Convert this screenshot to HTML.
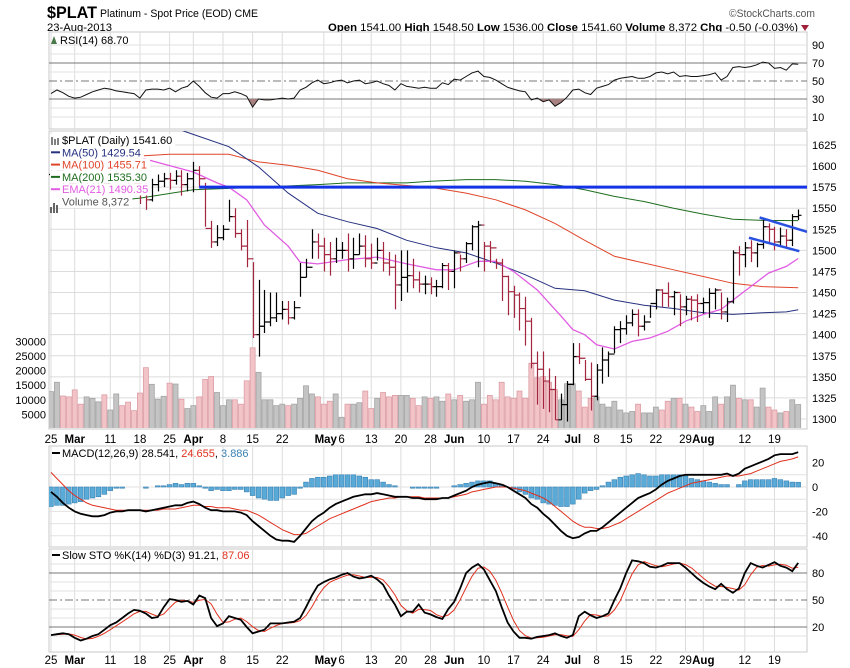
<!DOCTYPE html>
<html><head><meta charset="utf-8"><style>
html,body{margin:0;padding:0;background:#fff;}
svg{display:block;font-family:"Liberation Sans",Arial,sans-serif;}
</style></head><body>
<svg id="chart" width="850" height="668" viewBox="0 0 850 668" xmlns="http://www.w3.org/2000/svg">
<defs>
<clipPath id="cRsi"><rect x="49" y="32" width="758" height="97"/></clipPath>
<clipPath id="cPrice"><rect x="49" y="131" width="758" height="297"/></clipPath>
<clipPath id="cMacd"><rect x="49" y="446" width="758" height="101"/></clipPath>
<clipPath id="cSto"><rect x="49" y="549" width="758" height="103"/></clipPath>
<clipPath id="cBelow30"><rect x="49" y="99" width="758" height="30"/></clipPath>
</defs>
<text x="47" y="18" font-size="17" font-weight="bold" textLength="50" lengthAdjust="spacingAndGlyphs">$PLAT</text>
<text x="100" y="17" font-size="11" textLength="158" lengthAdjust="spacingAndGlyphs">Platinum - Spot Price (EOD) CME</text>
<text x="47" y="31" font-size="11" textLength="65" lengthAdjust="spacingAndGlyphs">23-Aug-2013</text>
<text x="815" y="17" font-size="11" fill="#555" text-anchor="end" textLength="86" lengthAdjust="spacingAndGlyphs">©StockCharts.com</text>
<text x="798" y="31" font-size="11" text-anchor="end" textLength="470" lengthAdjust="spacingAndGlyphs"><tspan font-weight="bold">Open</tspan> 1541.00 <tspan font-weight="bold">High</tspan> 1548.50 <tspan font-weight="bold">Low</tspan> 1536.00 <tspan font-weight="bold">Close</tspan> 1541.60 <tspan font-weight="bold">Volume</tspan> 8,372 <tspan font-weight="bold">Chg</tspan> -0.50 (-0.03%)</text>
<path d="M801 25 L809 25 L805 31 Z" fill="#a0203a"/>
<g id="g"></g>
</svg>
<script>
// ---------- data ----------
const dateLabels = ["25","Mar","11","18","25","Apr","8","15","22","May","6","13","20","28","Jun","10","17","24","Jul","8","15","22","29","Aug","12","19"];
const dateLabelIdx = [0,4,10,15,20,24,29,34,39,46,49,54,59,64,68,73,78,83,88,92,97,102,107,110,117,122];
const monthLabels = ["Mar","Apr","May","Jun","Jul","Aug"];
const closes = [1590,1595,1585,1580,1575,1572,1578,1582,1585,1580,1590,1592,1588,1585,1580,1575,1560,1578,1582,1585,1583,1588,1578,1585,1595,1585,1526,1510,1515,1525,1540,1520,1505,1490,1400,1410,1415,1420,1425,1430,1420,1432,1468,1480,1510,1505,1495,1490,1500,1500,1490,1495,1505,1490,1485,1500,1485,1480,1459,1468,1470,1465,1460,1460,1457,1457,1482,1475,1497,1490,1508,1528,1530,1505,1503,1485,1469,1451,1447,1431,1416,1366,1359,1345,1335,1299,1317,1341,1374,1372,1347,1327,1358,1370,1377,1406,1407,1414,1424,1410,1415,1437,1453,1449,1445,1450,1433,1442,1441,1437,1438,1449,1453,1427,1439,1497,1495,1503,1497,1507,1528,1525,1510,1517,1512,1540,1541.6];
const highs = [1600,1605,1598,1590,1585,1580,1585,1590,1592,1588,1596,1598,1595,1592,1588,1595,1580,1585,1590,1592,1592,1595,1595,1592,1605,1600,1580,1535,1530,1530,1560,1550,1525,1536,1486,1465,1453,1450,1450,1440,1440,1440,1485,1490,1525,1520,1515,1510,1515,1510,1520,1515,1520,1518,1508,1515,1510,1498,1495,1500,1500,1490,1475,1470,1468,1465,1485,1485,1500,1495,1510,1530,1535,1510,1511,1490,1490,1470,1458,1450,1445,1420,1380,1380,1360,1351,1330,1345,1390,1390,1370,1367,1365,1385,1380,1410,1416,1423,1430,1430,1423,1435,1454,1454,1462,1452,1448,1446,1446,1448,1444,1455,1455,1450,1444,1500,1505,1510,1512,1509,1538,1532,1528,1527,1525,1543,1548.5];
const lows = [1580,1585,1578,1572,1568,1565,1568,1575,1576,1572,1580,1585,1580,1578,1575,1555,1548,1558,1570,1575,1572,1578,1565,1570,1569,1575,1528,1503,1505,1512,1534,1515,1500,1480,1396,1374,1402,1410,1415,1418,1412,1418,1445,1468,1490,1490,1475,1470,1485,1490,1475,1478,1495,1480,1478,1488,1475,1470,1430,1440,1450,1455,1450,1448,1448,1445,1455,1453,1455,1475,1485,1500,1480,1475,1485,1478,1440,1423,1420,1405,1387,1360,1317,1312,1308,1299,1299,1297,1340,1365,1345,1310,1322,1342,1350,1378,1390,1400,1410,1398,1405,1420,1430,1433,1433,1423,1410,1423,1417,1415,1425,1420,1430,1418,1415,1437,1470,1480,1486,1480,1502,1510,1500,1505,1504,1505,1536];
const volumes = [12800,16000,11300,11000,13400,8500,11000,10500,9300,11700,6500,12000,8000,9200,6300,12300,21000,15300,10200,11200,15700,15400,10200,7000,8000,11000,17000,18000,12500,8000,10000,10000,8500,16500,27800,19400,10000,10000,8000,8500,8000,8500,10500,14800,12000,11000,8500,9500,12000,4000,8500,8500,9000,13000,7000,10500,12500,11000,11500,11500,11500,10500,8000,11000,10500,11000,9500,12000,10000,11500,9500,10000,16000,8500,11500,10000,16000,11000,10500,13000,10500,22500,17500,18000,16000,13500,10000,15500,15500,13000,7500,10500,11000,8500,7500,9500,6500,5500,6000,8500,5500,5500,7500,6500,9500,10500,10500,8500,7500,6000,8000,6000,11000,8500,11000,15000,10500,10000,10000,7500,14000,7500,6500,5500,6000,10000,8372];
const rsi = [36,40,37,33,31,32,35,38,40,42,41,39,38,37,36,31,40,41,41,40,42,38,42,44,50,44,37,32,31,36,36,38,36,33,21,30,29,29,30,31,30,31,40,43,48,51,47,48,50,51,48,50,51,47,48,50,47,45,40,47,44,43,42,43,42,42,48,46,52,51,55,59,61,55,54,51,47,43,41,39,38,29,31,27,29,22,26,32,40,41,37,35,42,44,46,51,53,54,55,53,53,55,59,60,58,60,55,56,55,55,56,57,59,51,55,65,66,65,66,68,71,70,64,65,62,69,68.7];
const rsiTicks = [90,70,50,30,10];
const ma50Idx = [0,15,23,30,35,40,45,50,55,60,65,70,75,80,85,90,95,100,105,110,115,120,124,126];
const ma50 = [1680,1660,1640,1623,1599,1568,1544,1534,1526,1512,1503,1497,1485,1471,1455,1452,1441,1435,1431,1426,1424,1426,1427,1429.54];
const ma100Idx = [0,15,20,30,35,40,45,50,55,60,64,70,75,80,85,90,95,100,105,110,115,120,126];
const ma100 = [1610,1612,1614,1614,1605,1601,1595,1585,1580,1577,1575,1568,1560,1548,1532,1512,1493,1485,1477,1469,1461,1457,1455.71];
const ma200Idx = [0,15,24,35,45,50,60,64,70,75,80,85,90,95,100,105,110,115,120,126];
const ma200 = [1551,1562,1572,1575,1578,1580,1580,1582,1584,1584,1582,1578,1572,1564,1558,1550,1543,1537,1535.5,1535.3];
const emaIdx = [0,15,24,28,30,33,36,40,42,45,50,55,60,65,68,72,75,78,82,86,88,90,92,95,98,101,104,107,110,113,115,118,121,124,126];
const ema21 = [1615,1610,1593,1580,1575,1560,1530,1505,1486,1484,1489,1492,1484,1477,1477,1487,1487,1475,1453,1422,1406,1400,1388,1383,1392,1396,1404,1416,1424,1430,1441,1457,1473,1481,1490.35];
const resistanceLevel = [1575];
const channelIdx = [119.5,127.5];
const channelUpper = [1539,1522];
const channelLower = [1515,1499];
const priceTicks = [1625,1600,1575,1550,1525,1500,1475,1450,1425,1400,1375,1350,1325,1300];
const volTicks = [30000,25000,20000,15000,10000,5000];
const macd = [-4,-8,-13,-17,-20,-22,-23,-24,-24,-23,-21,-20,-20,-19,-19,-19,-20,-19,-18,-17,-16,-15,-15,-13,-12,-14,-17,-19,-19,-20,-20,-20,-21,-23,-28,-32,-36,-40,-43,-44,-44,-45,-40,-34,-28,-24,-21,-17,-14,-12,-10,-8,-7,-6,-6,-5,-6,-7,-8,-8,-8,-9,-9,-10,-10,-10,-9,-9,-7,-5,-3,0,2,3,4,3,2,0,-3,-6,-9,-14,-17,-22,-26,-31,-36,-40,-42,-41,-38,-36,-36,-33,-29,-25,-21,-17,-13,-9,-7,-5,-2,2,5,7,9,10,10,10,10,10,10,10,11,9,11,15,17,19,21,23,26,27,27,27,28.541];
const signal = [12,7,2,-3,-7,-10,-13,-15,-16,-17,-18,-19,-19,-19,-19,-19,-19,-19,-19,-18,-18,-18,-17,-16,-15,-15,-16,-16,-17,-17,-17,-18,-19,-19,-21,-23,-26,-29,-32,-35,-37,-39,-39,-38,-35,-32,-29,-26,-24,-22,-20,-18,-16,-14,-12,-11,-10,-9,-9,-8,-8,-8,-8,-9,-9,-9,-9,-9,-8,-7,-6,-4,-3,-2,-1,0,0,0,-1,-2,-3,-5,-7,-9,-12,-16,-20,-24,-28,-31,-33,-33,-34,-34,-33,-31,-29,-26,-23,-20,-17,-14,-11,-8,-5,-3,-1,1,3,4,5,6,7,8,9,9,9,10,11,13,15,17,19,21,22,23,24.655];
const macdTicks = [20,0,-20,-40];
const stoK = [11,12,13,12,8,5,7,10,12,17,22,25,30,35,39,38,35,30,31,42,51,50,48,49,45,55,52,30,21,24,32,30,28,20,13,15,17,24,24,24,25,26,30,42,55,66,70,73,75,78,80,76,74,75,77,73,67,55,45,32,37,37,45,36,34,31,29,40,48,63,80,86,90,84,72,60,42,25,15,8,8,7,9,10,11,13,10,8,11,32,37,33,30,32,35,50,63,80,94,93,91,87,86,88,91,91,91,86,80,74,69,65,62,68,62,58,63,80,91,88,86,89,92,88,86,82,91.21];
const stoTicks = [80,50,20];

// ---------- scales ----------
const X0 = 51, DX = 5.93, L = 49, R = 807;
const xs = i => X0 + i * DX;
const py = p => 145 + (1625 - p) * 0.843;
const vy = v => 429 - v * 14.6 / 5000;
const ry = v => 126 - v * 0.9;
const my = v => 487 - v * 1.22;
const sy = v => 645 - v * 0.9;

const NS = "http://www.w3.org/2000/svg";
const root = document.getElementById('g');
function mk(tag, attrs, parent) {
  const e = document.createElementNS(NS, tag);
  for (const k in attrs) e.setAttribute(k, attrs[k]);
  (parent || root).appendChild(e);
  return e;
}
function grp(clip) { const g = mk('g', clip ? {'clip-path': 'url(#' + clip + ')'} : {}); return g; }

// ---------- panel frames & grids ----------
const panels = [
  {name:'rsi-panel', top:32, bot:129},
  {name:'price-panel', top:131, bot:429},
  {name:'macd-panel', top:446, bot:547},
  {name:'sto-panel', top:549, bot:652}
];
panels.forEach(p => {
  const r = mk('rect', {x:L, y:p.top, width:R-L, height:p.bot-p.top, fill:'#fff', stroke:'#c8c8c8', 'stroke-width':1});
  
  
  dateLabelIdx.forEach(i => {
    const ln = mk('line', {x1:xs(i), x2:xs(i), y1:p.top, y2:p.bot, stroke:'#dcdcdc', 'stroke-width':1});
    
    
  });
});
[90,80,60,40,20,10].forEach(v => {
  const ln = mk('line', {x1:L, x2:R, y1:ry(v), y2:ry(v), stroke:'#e2e2e2'});
  
  
});
[90,70,60,40,30,10].forEach(v => {
  const ln = mk('line', {x1:L, x2:R, y1:sy(v), y2:sy(v), stroke:'#e2e2e2'});
  
  
});
priceTicks.forEach(v => {
  const ln = mk('line', {x1:L, x2:R, y1:py(v), y2:py(v), stroke:'#dcdcdc'});
  
  
  const t = mk('text', {x:812, y:py(v)+4, 'font-size':11});
  t.textContent = v;
  
  
});
[10,0,-10,-20,-30,-40].forEach(v => {
  const ln = mk('line', {x1:L, x2:R, y1:my(v), y2:my(v), stroke:'#e2e2e2'});
  
  
});
macdTicks.forEach(v => {
  const t = mk('text', {x:812, y:my(v)+4, 'font-size':11});
  t.textContent = v;
  
  
});
rsiTicks.forEach(v => {
  const t = mk('text', {x:812, y:ry(v)+4, 'font-size':11});
  t.textContent = v;
  
  
});
stoTicks.forEach(v => {
  const t = mk('text', {x:812, y:sy(v)+4, 'font-size':11});
  t.textContent = v;
  
  
});
[[ry(70),'rsi-overbought-line',''],[ry(30),'rsi-oversold-line',''],[ry(50),'rsi-midline','8,3,2,3'],
 [sy(80),'sto-overbought-line',''],[sy(20),'sto-oversold-line',''],[sy(50),'sto-midline','8,3,2,3']].forEach(a => {
  const ln = mk('line', {x1:L, x2:R, y1:a[0], y2:a[0], stroke:'#777', 'stroke-width':1, 'stroke-dasharray':a[2]});
  
  
});

// ---------- RSI ----------
const gR = grp('cRsi');
const rsiPts = rsi.map((v,i) => xs(i).toFixed(1) + ',' + ry(v).toFixed(1));
const fillArea = mk('polygon', {points: xs(0)+','+ry(30)+' '+rsiPts.join(' ')+' '+xs(rsi.length-1)+','+ry(30), fill:'#a98080', 'clip-path':'url(#cBelow30)'}, gR);


const rsiLine = mk('polyline', {points: rsiPts.join(' '), fill:'none', stroke:'#111', 'stroke-width':1}, gR);


const rsiLab = mk('text', {x:60, y:44, 'font-size':11});
rsiLab.textContent = 'RSI(14) 68.70';


mk('path', {d:'M51 44 L54 36 L57 44 Z', fill:'#4a7a4a'});

// ---------- price panel ----------
const gP = grp('cPrice');
volumes.forEach((v,i) => {
  const down = i > 0 && closes[i] < closes[i-1];
  const b = mk('rect', {x:xs(i)-2.5, y:vy(v), width:5, height:429-vy(v), fill: down ? '#f2c4c8' : '#c4c4c4', stroke: down ? '#dc9ea6' : '#a4a4a4', 'stroke-width':0.8}, gP);
  
  
});
volTicks.forEach(v => {
  const t = mk('text', {x:46, y:vy(v)+4, 'font-size':11, 'text-anchor':'end'});
  t.textContent = v;
  
  
});
function line(idx, vals, scale, color, w, name, parent) {
  const pts = vals.map((v,k) => xs(idx[k]).toFixed(1) + ',' + scale(v).toFixed(1)).join(' ');
  const pl = mk('polyline', {points:pts, fill:'none', stroke:color, 'stroke-width':w}, parent);
  
  
}
line(ma200Idx, ma200, py, '#1f6e1f', 1, 'ma200-line', gP);
line(ma100Idx, ma100, py, '#e0452a', 1, 'ma100-line', gP);
line(ma50Idx, ma50, py, '#25307f', 1, 'ma50-line', gP);
line(emaIdx, ema21, py, '#e25ce2', 1.3, 'ema21-line', gP);
closes.forEach((c,i) => {
  const o = i > 0 ? closes[i-1] : c;
  const down = i > 0 && c < closes[i-1];
  const col = down ? '#a3263f' : '#000';
  const x = Math.round(xs(i)) + 0.5;
  const bar = mk('path', {d:`M${x} ${py(highs[i])} V${py(lows[i])} M${x-3} ${py(o)} H${x} M${x} ${py(c)} H${x+3}`, stroke:col, 'stroke-width':1.2, fill:'none'}, gP);
  
  
});
const res = mk('line', {x1:xs(25), x2:R, y1:py(resistanceLevel[0]), y2:py(resistanceLevel[0]), stroke:'#1533e6', 'stroke-width':3}, gP);


const ch1 = mk('line', {x1:xs(channelIdx[0]), x2:xs(channelIdx[1]), y1:py(channelUpper[0]), y2:py(channelUpper[1]), stroke:'#2a50e0', 'stroke-width':2.5}, gP);


const ch2 = mk('line', {x1:xs(channelIdx[0]-1.8), x2:xs(channelIdx[1]-1.3), y1:py(channelLower[0]), y2:py(channelLower[1]), stroke:'#2a50e0', 'stroke-width':2.5}, gP);



// legend
const legend = [
  ['$PLAT (Daily) 1541.60', '#000', 'price-legend'],
  ['MA(50) 1429.54', '#25307f', 'ma50-legend'],
  ['MA(100) 1455.71', '#e0452a', 'ma100-legend'],
  ['MA(200) 1535.30', '#1f6e1f', 'ma200-legend'],
  ['EMA(21) 1490.35', '#e25ce2', 'ema21-legend'],
  ['Volume 8,372', '#555', 'volume-legend']
];
legend.forEach((l,k) => {
  const y = 144 + k * 12.3;
  const bg = mk('rect', {x:50, y:y-10, width:90, height:12.3, fill:'#fff'});
  if (k > 0 && k < 5) mk('line', {x1:51, x2:60, y1:y-4, y2:y-4, stroke:l[1], 'stroke-width':2});
  const t = mk('text', {x:62, y:y, 'font-size':11, fill:l[1]});
  t.textContent = l[0];
  
  
  let w = 90;
  try { w = t.getComputedTextLength() + 15; } catch(e) {}
  bg.setAttribute('width', w);
});
mk('path', {d:'M52 137 V145 M55 139 V145 M58 138 V145', stroke:'#000', 'stroke-width':1});
mk('path', {d:'M51 207 V213 M54 203 V213 M57 205 V213', stroke:'#666', 'stroke-width':2});

// ---------- date axes ----------
[443, 664].forEach((yy, a) => {
  dateLabels.forEach((lab, k) => {
    const isMonth = monthLabels.includes(lab);
    const t = mk('text', {x:xs(dateLabelIdx[k]) + (lab === 'May' ? 2 : 0), y:yy, 'font-size':11.5, 'text-anchor':'middle', 'font-weight': isMonth ? 'bold' : 'normal'});
    t.textContent = lab;
    
    
  });
});

// ---------- MACD ----------
const gM = grp('cMacd');
macd.forEach((m,i) => {
  const h = m - signal[i];
  const y0 = my(0), y1 = my(h);
  const b = mk('rect', {x:xs(i)-2.4, y:Math.min(y0,y1), width:4.8, height:Math.abs(y1-y0), fill:'#5aaad8', stroke:'#3a82b4', 'stroke-width':0.6}, gM);
  
  
});
const allIdx = macd.map((_,i) => i);
line(allIdx, signal, my, '#e0301e', 1, 'macd-signal-line', gM);
line(allIdx, macd, my, '#000', 1.8, 'macd-line', gM);
mk('line', {x1:52, x2:60, y1:453, y2:453, stroke:'#000', 'stroke-width':2});
const ml = mk('text', {x:62, y:457, 'font-size':11});
ml.innerHTML = 'MACD(12,26,9) 28.541, <tspan fill="#e0301e">24.655</tspan>, <tspan fill="#3a82b4">3.886</tspan>';



// ---------- Slow Stochastic ----------
const gS = grp('cSto');
const stoD = stoK.map((v,i) => { const s = stoK.slice(Math.max(0,i-2), i+1); return s.reduce((a,b)=>a+b,0)/s.length; });
line(allIdx, stoD, sy, '#e0301e', 1, 'sto-d-line', gS);
line(allIdx, stoK, sy, '#000', 1.8, 'sto-k-line', gS);
mk('line', {x1:52, x2:60, y1:555, y2:555, stroke:'#000', 'stroke-width':2});
const sl = mk('text', {x:62, y:559, 'font-size':11});
sl.innerHTML = 'Slow STO %K(14) %D(3) 91.21, <tspan fill="#e0301e">87.06</tspan>';


</script>
</body></html>
